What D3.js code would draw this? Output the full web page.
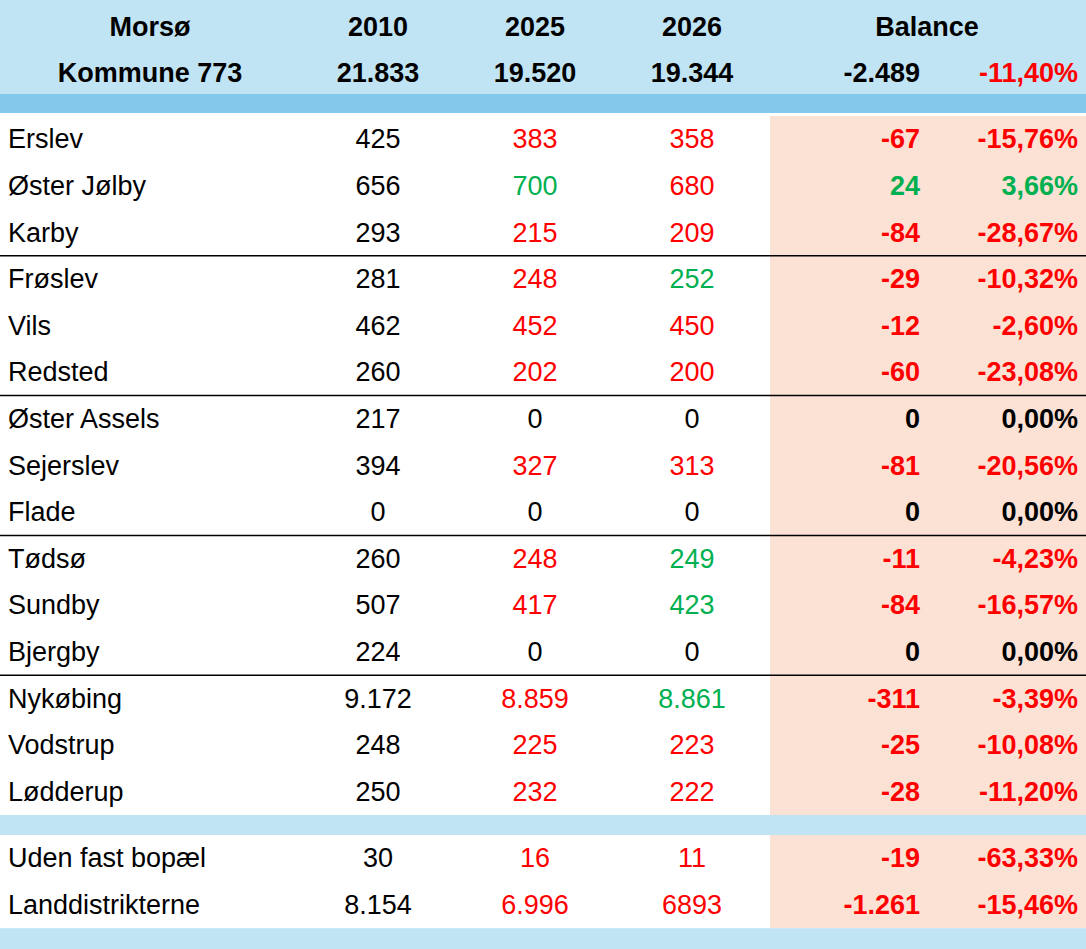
<!DOCTYPE html>
<html><head><meta charset="utf-8">
<script src="https://cdn.jsdelivr.net/npm/d3@7"></script>
<style>body{margin:0;background:#fff}text{font-family:"Liberation Sans",Arial,sans-serif;font-size:27px}</style>
</head><body><svg id="tbl" width="1086" height="949"></svg>
<script>
var R = "#ff0000", G = "#00b050", K = "#000";
// name, 2010, 2025, 2026, balance, pct, colours [2025, 2026, balance]
var rows = [
	["Erslev", "425", "383", "358", "-67", "-15,76%", [R, R, R]],
	["Øster Jølby", "656", "700", "680", "24", "3,66%", [G, R, G]],
	["Karby", "293", "215", "209", "-84", "-28,67%", [R, R, R]],
	["Frøslev", "281", "248", "252", "-29", "-10,32%", [R, G, R]],
	["Vils", "462", "452", "450", "-12", "-2,60%", [R, R, R]],
	["Redsted", "260", "202", "200", "-60", "-23,08%", [R, R, R]],
	["Øster Assels", "217", "0", "0", "0", "0,00%", [K, K, K]],
	["Sejerslev", "394", "327", "313", "-81", "-20,56%", [R, R, R]],
	["Flade", "0", "0", "0", "0", "0,00%", [K, K, K]],
	["Tødsø", "260", "248", "249", "-11", "-4,23%", [R, G, R]],
	["Sundby", "507", "417", "423", "-84", "-16,57%", [R, G, R]],
	["Bjergby", "224", "0", "0", "0", "0,00%", [K, K, K]],
	["Nykøbing", "9.172", "8.859", "8.861", "-311", "-3,39%", [R, G, R]],
	["Vodstrup", "248", "225", "223", "-25", "-10,08%", [R, R, R]],
	["Lødderup", "250", "232", "222", "-28", "-11,20%", [R, R, R]]
];
var extra = [
	["Uden fast bopæl", "30", "16", "11", "-19", "-63,33%", [R, R, R]],
	["Landdistrikterne", "8.154", "6.996", "6893", "-1.261", "-15,46%", [R, R, R]]
];
var groupEnds = [2, 5, 8, 11];

var svg = d3.select("#tbl");
var rowH = 46.6;
var y = d3.scaleLinear().domain([0, 1]).range([116, 116 + rowH]);
var y2 = d3.scaleLinear().domain([0, 1]).range([835, 835 + rowH]);
var cols = [
	{x: 8, a: "start"}, {x: 378, a: "middle"}, {x: 535, a: "middle"},
	{x: 692, a: "middle"}, {x: 920, a: "end"}, {x: 1078, a: "end"}
];

// backgrounds
svg.append("rect").attr("x", 0).attr("y", 0).attr("width", 1086).attr("height", 94).attr("fill", "#c0e4f4");
svg.append("rect").attr("x", 0).attr("y", 94).attr("width", 1086).attr("height", 19).attr("fill", "#83c9ec");
svg.append("rect").attr("x", 770).attr("y", y(0)).attr("width", 316).attr("height", y(rows.length) - y(0)).attr("fill", "#fbe2d5");
svg.append("rect").attr("x", 0).attr("y", y(rows.length)).attr("width", 1086).attr("height", y2(0) - y(rows.length)).attr("fill", "#c0e4f4");
svg.append("rect").attr("x", 770).attr("y", y2(0)).attr("width", 316).attr("height", y2(2) - y2(0)).attr("fill", "#fbe2d5");
svg.append("rect").attr("x", 0).attr("y", y2(2)).attr("width", 1086).attr("height", 949 - y2(2)).attr("fill", "#c0e4f4");

// header
var head = [
	["Morsø", "2010", "2025", "2026", "", ""],
	["Kommune 773", "21.833", "19.520", "19.344", "-2.489", "-11,40%"]
];
var hx = [{x: 150, a: "middle"}, cols[1], cols[2], cols[3], cols[4], cols[5]];
head.forEach(function (h, r) {
	h.forEach(function (t, c) {
		svg.append("text").attr("x", hx[c].x).attr("y", 26 + r * 46 + 10)
			.attr("text-anchor", hx[c].a).attr("font-weight", "bold")
			.attr("fill", c === 5 ? R : K).text(t);
	});
});
svg.append("text").attr("x", 927).attr("y", 36).attr("text-anchor", "middle")
	.attr("font-weight", "bold").text("Balance");

function drawRows(data, sy) {
	data.forEach(function (d, i) {
		var cy = (sy(i) + sy(i + 1)) / 2 + 9;
		d.slice(0, 6).forEach(function (t, c) {
			var col = c < 2 ? K : (c === 5 ? d[6][2] : d[6][c - 2]);
			svg.append("text").attr("x", cols[c].x).attr("y", cy)
				.attr("text-anchor", cols[c].a)
				.attr("font-weight", c >= 4 ? "bold" : "normal")
				.attr("fill", col).text(t);
		});
	});
}
drawRows(rows, y);
drawRows(extra, y2);

groupEnds.forEach(function (g) {
	svg.append("line").attr("x1", 0).attr("x2", 1086)
		.attr("y1", y(g + 1)).attr("y2", y(g + 1))
		.attr("stroke", "#000").attr("stroke-width", 1.5);
});
</script></body></html>
